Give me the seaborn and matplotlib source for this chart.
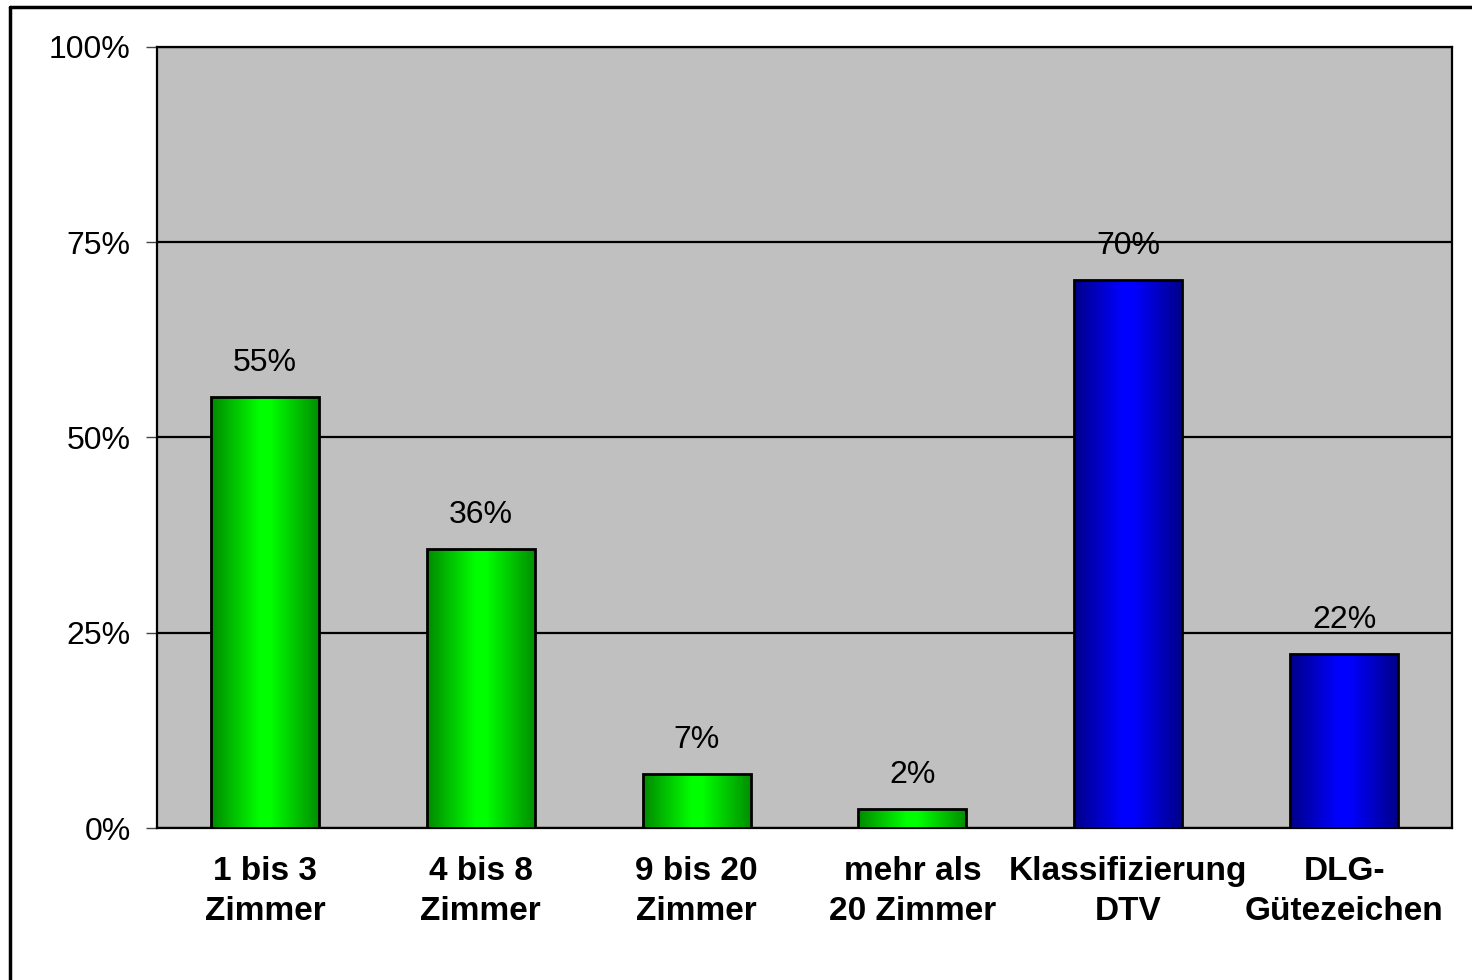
import matplotlib
matplotlib.use("Agg")
import matplotlib.pyplot as plt
from matplotlib.colors import LinearSegmentedColormap
from matplotlib.lines import Line2D
import numpy as np
import pandas as pd
import seaborn as sns

categories = ["1 bis 3\nZimmer", "4 bis 8\nZimmer", "9 bis 20\nZimmer",
              "mehr als\n20 Zimmer", "Klassifizierung\nDTV", "DLG-\nGütezeichen"]
values = [55.2, 35.7, 6.9, 2.4, 70.2, 22.3]
labels = ["55%", "36%", "7%", "2%", "70%", "22%"]
groups = ["green", "green", "green", "green", "blue", "blue"]

df = pd.DataFrame({"cat": categories, "val": values, "grp": groups})

sns.set_style("white")
plt.rcParams["font.family"] = ["Liberation Sans", "DejaVu Sans"]
plt.rcParams["text.color"] = "black"

fig = plt.figure(figsize=(14.72, 9.8), dpi=100)
ax = fig.add_axes([157 / 1472, 1 - 828 / 980, (1452 - 157) / 1472, (828 - 47) / 980])
ax.set_facecolor("#c0c0c0")

pal = {"green": "#00e000", "blue": "#0000e0"}
sns.barplot(data=df, x="cat", y="val", hue="grp", palette=pal, dodge=False,
            width=0.5, legend=False, edgecolor="black", linewidth=2, ax=ax, zorder=3)

# horizontal shading inside each bar
cmaps = {
    "green": LinearSegmentedColormap.from_list("g", [(0, "#008a00"), (0.45, "#00ff00"), (0.55, "#00ff00"), (1, "#008f00")]),
    "blue": LinearSegmentedColormap.from_list("b", [(0, "#000088"), (0.45, "#0000ff"), (0.55, "#0000ff"), (1, "#00008a")]),
}
grad = np.linspace(0, 1, 256).reshape(1, -1)
for patch, g in zip(ax.patches, groups):
    x0, y0 = patch.get_x(), patch.get_y()
    w, h = patch.get_width(), patch.get_height()
    im = ax.imshow(grad, cmap=cmaps[g], aspect="auto", extent=[x0, x0 + w, y0, y0 + h],
                   zorder=3.5, interpolation="bilinear")
    im.set_clip_path(patch)
    patch.set_zorder(4)
    patch.set_facecolor("none")

ax.set_xlim(-0.5, len(categories) - 0.5)
ax.set_ylim(0, 100)

for i, (v, lab) in enumerate(zip(values, labels)):
    ax.annotate(lab, (i, v), xytext=(0, 34), textcoords="offset pixels",
                ha="center", va="center", fontsize=23, color="black", zorder=5)

ax.set_yticks([0, 25, 50, 75, 100])
ax.set_yticklabels(["0%", "25%", "50%", "75%", "100%"], fontsize=23)
ax.yaxis.grid(True, color="black", linewidth=1.6, zorder=1)
ax.set_axisbelow(True)

ax.set_xticks(range(len(categories)))
ax.set_xticklabels(categories, fontsize=24, fontweight="bold", linespacing=1.4)
ax.set_xticks(np.arange(-0.5, len(categories)), minor=True)
ax.tick_params(axis="x", which="major", length=0, pad=20, labelcolor="black")
ax.tick_params(axis="x", which="minor", length=8, width=1, color="#444444", direction="out")
ax.tick_params(axis="y", which="major", length=8, width=1, color="#444444", direction="out",
               pad=11, left=True, labelcolor="black")
ax.set_xlabel("")
ax.set_ylabel("")

for s in ax.spines.values():
    s.set_visible(True)
    s.set_color("black")
    s.set_linewidth(1.6)

fig.add_artist(Line2D([10 / 1472, 10 / 1472], [0, 1 - 7 / 980], color="black", linewidth=2.5,
                      transform=fig.transFigure))
fig.add_artist(Line2D([10 / 1472, 1], [1 - 7 / 980, 1 - 7 / 980], color="black", linewidth=2.5,
                      transform=fig.transFigure))

fig.savefig("out.png", dpi=100, facecolor="white")
